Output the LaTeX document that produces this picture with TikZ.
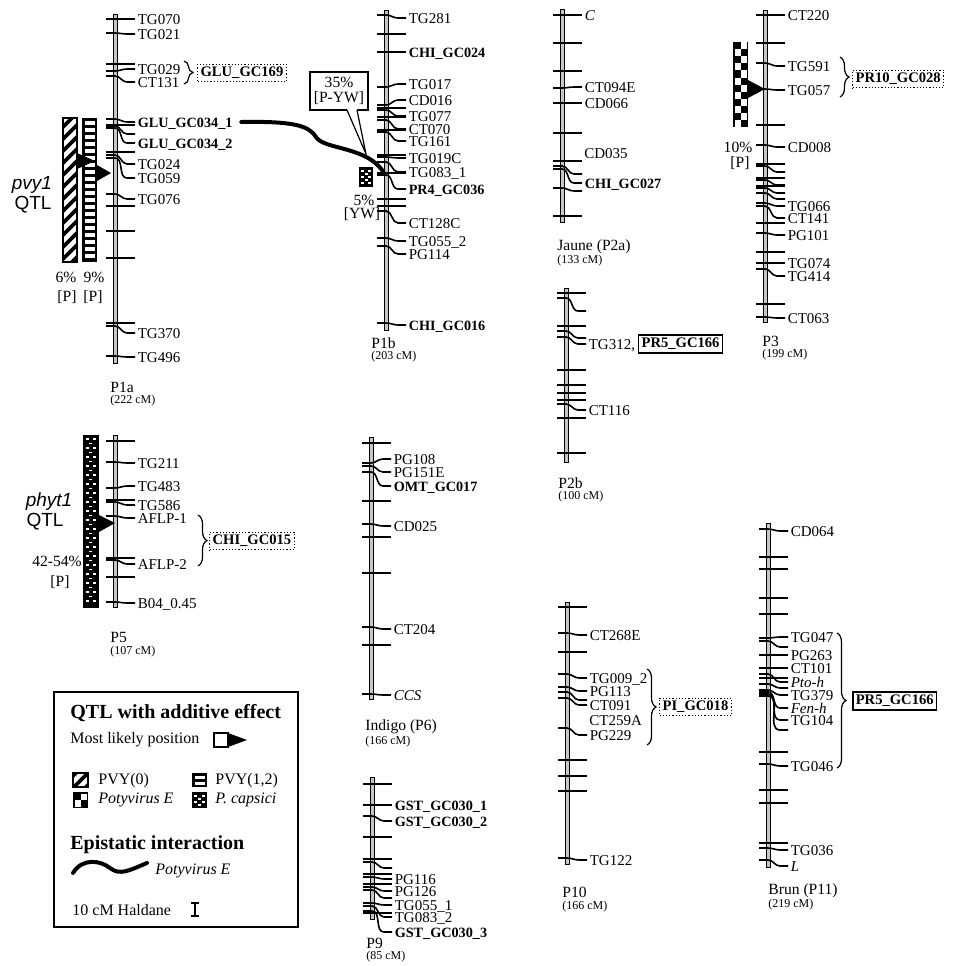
\documentclass[tikz,border=0pt]{standalone}
\usepackage{fontspec}
\setmainfont{Liberation Serif}
\newfontfamily\qtlfont{Liberation Sans}
\usetikzlibrary{decorations.pathreplacing,positioning}
\newcommand{\mkb}[1]{{\fontsize{7.1}{7.1}\selectfont\bfseries #1}}

\begin{document}
\begin{tikzpicture}[x=0.5pt,y=-0.5pt,
  chrom/.style={draw,line width=0.5pt,fill=gray!45},
  tick/.style={line width=0.8pt},
  mk/.style={anchor=west,inner sep=0pt,xshift=1pt,text height=5pt,text depth=0pt,
             font=\fontsize{7.5}{7.5}\selectfont},
  chrname/.style={anchor=west,inner sep=0pt,font=\fontsize{7.8}{7.8}\selectfont},
  cmlbl/.style={anchor=west,inner sep=0pt,yshift=-1.3pt,font=\fontsize{6}{6}\selectfont},
  dotbox/.style={draw,densely dotted,line width=0.6pt,inner sep=1.5pt,anchor=west,
                 font=\fontsize{7.3}{7.3}\selectfont\bfseries},
  solbox/.style={draw,line width=0.8pt,inner sep=1.5pt,anchor=west,
                 font=\fontsize{7.3}{7.3}\selectfont\bfseries},
  brc/.style={decorate,decoration={brace,amplitude=4.5pt},line width=0.6pt},
  pct/.style={inner sep=0pt,font=\fontsize{7.8}{7.8}\selectfont},
  qtl/.style={inner sep=0pt,font=\fontsize{9.5}{9.5}\selectfont\qtlfont},
  epi/.style={line width=2pt,line cap=round}
]
\useasboundingbox (0,0) rectangle (959,966);

% ---------- P1a
\begin{scope}[shift={(115,0)}]
\draw[chrom] (-2,14) rectangle (2,363);
\foreach \t/\l/\n [count=\i] in {19/19/TG070, 33/34/TG021, 64/64/, 71/69/TG029, 76/82/CT131,
    119/122/\mkb{GLU\_GC034\_1}, 125/125/, 126/134/, 128/143/\mkb{GLU\_GC034\_2}, 152/152/,
    155/164/TG024, 158/178/TG059, 194/199/TG076, 206/206/, 231/231/, 258/258/, 323/323/,
    326/333/TG370, 356/357/TG496}
  \draw[tick] (-9,\t) -- (0,\t) to[out=0,in=180] (12,\l) -- (20,\l) node[mk] (p1a-\i) {\n};
\end{scope}
\node[chrname] (n-p1a) at (110,387) {P1a};
\node[cmlbl] (cm-p1a) at (110,398) {(222 cM)};

% pvy1 QTL bars
\begin{scope}
\clip (63,118) rectangle (77,262);
\foreach \k in {118,130,...,290} \draw[line width=1.8pt] (60,\k) -- (80,\k-20);
\end{scope}
\draw[line width=0.8pt] (63,118) rectangle (77,262);
\fill (82,118) rectangle (97,262);
\foreach \k in {121,128,...,256} \fill[white] (84.5,\k) rectangle (94.5,\k+3.5);
\fill (77,153) -- (95,161) -- (77,169) -- cycle;
\fill (97,165) -- (111,173) -- (97,181) -- cycle;
\node[qtl] (pvy) at (32,185) {\itshape pvy1};
\node[qtl] (pvy-q) at (33,205) {QTL};
\node[pct] (pvy-a) at (66,277) {6\%};
\node[pct] (pvy-b) at (94,277) {9\%};
\node[pct] (pvy-c) at (67,297) {[P]};
\node[pct] (pvy-d) at (93,297) {[P]};

\draw[brc] (184,61) -- (184,84);
\node[dotbox] (glu169) at (197,73) {GLU\_GC169};

% ---------- P1b
\begin{scope}[shift={(386,0)}]
\draw[chrom] (-2,10) rectangle (2,330);
\foreach \t/\l/\n [count=\i] in {15/18/TG281, 34/34/, 52/52/\mkb{CHI\_GC024}, 87/84/TG017,
    105/100/CD016, 108/108/, 110/116/TG077, 117/117/, 120/129/CT070, 130/130/, 132/141/TG161,
    155/155/, 157/158/TG019C, 162/172/TG083\_1, 173/173/, 175/189/\mkb{PR4\_GC036}, 199/199/,
    206/206/, 211/223/CT128C, 238/241/TG055\_2, 246/254/PG114, 323/325/\mkb{CHI\_GC016}}
  \draw[tick] (-9,\t) -- (0,\t) to[out=0,in=180] (12,\l) -- (20,\l) node[mk] (p1b-\i) {\n};
\coordinate (p1b-epi) at (-2,173);
\end{scope}
\node[chrname] (n-p1b) at (371,343) {P1b};
\node[cmlbl] (cm-p1b) at (371,354) {(203 cM)};

% epistatic interaction
\draw[epi] ([xshift=4pt]p1a-6.east) .. controls (295,121) and (309,126) .. (316,137)
  .. controls (324,150) and (368,146) .. (p1b-epi);
\node[draw,line width=0.6pt,fill=white,align=center,inner sep=1pt,minimum width=29pt,
  minimum height=19pt,font=\fontsize{7.8}{7.5}\selectfont] (callout) at (339,91) {35\%\\{[P-YW]}};
\fill[white] (347,109) -- (366,154) -- (357,109) -- cycle;
\draw[line width=0.6pt] (347,110) -- (366,154) -- (357,110);

\fill (359,167) rectangle (373,187);
\foreach \y in {170,176,182} {
  \fill[white] (361,\y) rectangle (364,\y+1.5);
  \fill[white] (368,\y) rectangle (371,\y+1.5);}
\foreach \y in {173,179} \fill[white] (364.5,\y) rectangle (367.5,\y+1.5);
\node[pct] (yw-a) at (364,200) {5\%};
\node[pct] (yw-b) at (362,214) {[YW]};

% ---------- Jaune (P2a)
\begin{scope}[shift={(562,0)}]
\draw[chrom] (-2,9) rectangle (2,222);
\foreach \t/\l/\n [count=\i] in {15/15/\textit{C}, 43/43/, 71/71/, 88/87/CT094E, 103/103/CD066,
    133/133/, 161/161/, 166/174/, 169/183/\mkb{CHI\_GC027}, 188/191/, 216/216/}
  \draw[tick] (-9,\t) -- (0,\t) to[out=0,in=180] (12,\l) -- (20,\l) node[mk] (p2a-\i) {\n};
\node[mk] (cd035) at (20,153) {CD035};
\end{scope}
\node[chrname] (n-p2a) at (557,247) {Jaune (P2a)};
\node[cmlbl] (cm-p2a) at (557,258) {(133 cM)};

% ---------- P2b
\begin{scope}[shift={(566,0)}]
\draw[chrom] (-2,288) rectangle (2,462);
\foreach \t/\l/\n [count=\i] in {293/293/, 298/311/, 326/326/, 331/338/, 337/344/TG312{,},
    370/370/, 385/385/, 393/393/, 400/400/, 404/410/CT116, 418/418/, 453/453/}
  \draw[tick] (-9,\t) -- (0,\t) to[out=0,in=180] (12,\l) -- (20,\l) node[mk] (p2b-\i) {\n};
\end{scope}
\node[solbox,right=1pt of p2b-5] (pr5-p2b) {PR5\_GC166};
\node[chrname] (n-p2b) at (558,483) {P2b};
\node[cmlbl] (cm-p2b) at (558,494) {(100 cM)};

% ---------- P3
\begin{scope}[shift={(765,0)}]
\draw[chrom] (-2,10) rectangle (2,322);
\foreach \t/\l/\n [count=\i] in {15/15/CT220, 43/43/, 63/66/TG591, 89/90/TG057, 125/125/,
    145/147/CD008, 164/164/, 166/172/, 178/178/, 180/185/, 186/186/, 188/193/, 193/199/,
    203/206/TG066, 206/218/CT141, 223/223/, 233/235/PG101, 252/252/, 263/263/TG074,
    269/276/TG414, 304/304/, 317/318/CT063}
  \draw[tick] (-9,\t) -- (0,\t) to[out=0,in=180] (12,\l) -- (20,\l) node[mk] (p3-\i) {\n};
\end{scope}
\node[chrname] (n-p3) at (762,341) {P3};
\node[cmlbl] (cm-p3) at (762,352) {(199 cM)};

\fill (733,42) rectangle (748,127);
\foreach \y in {42,56.2,...,121} \fill[white] (740.5,\y) rectangle (746.5,\y+7.1);
\foreach \y in {49.1,63.3,...,121} \fill[white] (734.5,\y) rectangle (740.5,\y+7.1);
\fill (748,80) -- (765,89) -- (748,98) -- cycle;
\node[pct] (pe-a) at (738,147) {10\%};
\node[pct] (pe-b) at (740,163) {[P]};

\draw[brc] (840,57) -- (840,97);
\node[dotbox] (pr10) at (852,79) {PR10\_GC028};

% ---------- P5
\begin{scope}[shift={(115,0)}]
\draw[chrom] (-2,435) rectangle (2,607);
\foreach \t/\l/\n [count=\i] in {441/441/, 462/463/TG211, 488/486/TG483, 500/500/,
    502/505/TG586, 516/518/AFLP-1, 558/558/, 560/564/AFLP-2, 577/577/, 602/603/B04\_0.45}
  \draw[tick] (-9,\t) -- (0,\t) to[out=0,in=180] (12,\l) -- (20,\l) node[mk] (p5-\i) {\n};
\end{scope}
\node[chrname] (n-p5) at (110,637) {P5};
\node[cmlbl] (cm-p5) at (110,649) {(107 cM)};

\fill (83,435) rectangle (99,608);
\foreach \y in {438,447,...,603} {
  \fill[white] (85.5,\y) rectangle (88.5,\y+1.6);
  \fill[white] (93,\y) rectangle (96,\y+1.6);}
\foreach \y in {442.5,451.5,...,603} \fill[white] (89.3,\y) rectangle (92.3,\y+1.6);
\fill (99,515) -- (115,523) -- (99,532) -- cycle;
\node[qtl] (phyt) at (49,502) {\itshape phyt1};
\node[qtl] (phyt-q) at (45,522) {QTL};
\node[pct] (phyt-a) at (57,561) {42-54\%};
\node[pct] (phyt-b) at (60,582) {[P]};

\draw[brc] (198,515) -- (198,566);
\node[dotbox] (chi015) at (209,541) {CHI\_GC015};

% ---------- Indigo (P6)
\begin{scope}[shift={(371,0)}]
\draw[chrom] (-2,437) rectangle (2,699);
\foreach \t/\l/\n [count=\i] in {443/443/, 463/459/PG108, 466/472/PG151E,
    472/486/\mkb{OMT\_GC017}, 501/501/, 524/526/CD025, 537/537/, 573/573/, 627/629/CT204,
    645/645/, 694/695/\textit{CCS}}
  \draw[tick] (-9,\t) -- (0,\t) to[out=0,in=180] (12,\l) -- (20,\l) node[mk] (p6-\i) {\n};
\end{scope}
\node[chrname] (n-p6) at (365,727) {Indigo (P6)};
\node[cmlbl] (cm-p6) at (365,739) {(166 cM)};

% ---------- P9
\begin{scope}[shift={(372,0)}]
\draw[chrom] (-2,777) rectangle (2,919);
\foreach \t/\l/\n [count=\i] in {784/784/, 805/805/\mkb{GST\_GC030\_1}, 816/821/\mkb{GST\_GC030\_2},
    837/837/, 859/859/, 862/868/, 874/874/, 877/879/PG116, 884/884/, 887/891/PG126, 890/898/,
    903/905/TG055\_1, 906/917/TG083\_2, 913/913/, 911/932/\mkb{GST\_GC030\_3}}
  \draw[tick] (-9,\t) -- (0,\t) to[out=0,in=180] (12,\l) -- (20,\l) node[mk] (p9-\i) {\n};
\end{scope}
\node[chrname] (n-p9) at (366,943) {P9};
\node[cmlbl] (cm-p9) at (366,954) {(85 cM)};

% ---------- P10
\begin{scope}[shift={(567,0)}]
\draw[chrom] (-2,602) rectangle (2,864);
\foreach \t/\l/\n [count=\i] in {607/607/, 633/635/CT268E, 652/652/, 674/678/TG009\_2,
    687/691/PG113, 692/700/, 698/705/CT091, 728/735/PG229, 760/760/, 776/776/, 791/791/,
    858/860/TG122}
  \draw[tick] (-9,\t) -- (0,\t) to[out=0,in=180] (12,\l) -- (20,\l) node[mk] (p10-\i) {\n};
\node[mk] (ct259a) at (20,720) {CT259A};
\end{scope}
\node[chrname] (n-p10) at (562,892) {P10};
\node[cmlbl] (cm-p10) at (562,904) {(166 cM)};

\draw[brc] (647,669) -- (647,745);
\node[dotbox] (pi018) at (659,707) {PI\_GC018};

% ---------- Brun (P11)
\begin{scope}[shift={(768,0)}]
\draw[chrom] (-2,523) rectangle (2,867);
\foreach \t/\l/\n [count=\i] in {529/531/CD064, 557/557/, 569/569/, 598/598/, 614/614/,
    638/637/TG047, 641/647/, 655/655/PG263, 668/668/CT101, 674/682/\textit{Pto-h}, 678/678/,
    684/688/, 690/695/TG379, 692/708/\textit{Fen-h}, 694/720/TG104, 696/730/, 752/752/,
    764/766/TG046, 790/790/, 803/803/, 843/843/, 848/850/TG036, 860/866/\textit{L}}
  \draw[tick] (-9,\t) -- (0,\t) to[out=0,in=180] (12,\l) -- (20,\l) node[mk] (p11-\i) {\n};
\end{scope}
\node[chrname] (n-p11) at (768,891) {Brun (P11)};
\node[cmlbl] (cm-p11) at (768,902) {(219 cM)};

\draw[brc] (837,633) -- (837,768);
\node[solbox] (pr5-p11) at (852,701) {PR5\_GC166};

% ---------- legend
\draw[line width=0.8pt] (54,692) rectangle (298,927);
\node[chrname,font=\fontsize{10}{10}\selectfont\bfseries] (lg-qtl) at (70,713) {QTL with additive effect};
\node[chrname,font=\fontsize{8}{8}\selectfont] (lg-pos) at (70,740) {Most likely position};
\draw[line width=0.6pt] (214,733) rectangle (228,747);
\fill (228,733) -- (247,740) -- (228,747) -- cycle;

\begin{scope}
\clip (73,773) rectangle (88,787);
\foreach \k in {779,791,803} \draw[line width=1.8pt] (70,\k) -- (91,\k-21);
\end{scope}
\draw[line width=0.8pt] (73,773) rectangle (88,787);
\node[chrname,font=\fontsize{8}{8}\selectfont] (lg-pvy0) at (98,781) {PVY(0)};

\fill (192,773) rectangle (207,787);
\foreach \k in {776,782} \fill[white] (194.5,\k) rectangle (204.5,\k+3);
\node[chrname,font=\fontsize{8}{8}\selectfont] (lg-pvy12) at (215,781) {PVY(1,2)};

\fill (73,792) rectangle (88,808);
\fill[white] (80.5,793.5) rectangle (86.5,800);
\fill[white] (74.5,800) rectangle (80.5,806.5);
\node[chrname,font=\fontsize{8}{8}\selectfont] (lg-pote) at (98,800) {\itshape Potyvirus E};

\fill (192,792) rectangle (207,808);
\foreach \y in {795,801} {
  \fill[white] (194,\y) rectangle (197,\y+1.5);
  \fill[white] (201.5,\y) rectangle (204.5,\y+1.5);}
\foreach \y in {798,804} \fill[white] (197.8,\y) rectangle (200.8,\y+1.5);
\node[chrname,font=\fontsize{8}{8}\selectfont] (lg-pcap) at (215,800) {\itshape P. capsici};

\node[chrname,font=\fontsize{10}{10}\selectfont\bfseries] (lg-epi) at (70,845) {Epistatic interaction};
\draw[epi] (73,873) .. controls (82,858) and (100,860) .. (110,868)
  .. controls (120,876) and (130,870) .. (147,863);
\node[chrname,font=\fontsize{8}{8}\selectfont] (lg-epi-e) at (155,871) {\itshape Potyvirus E};

\node[chrname,font=\fontsize{8}{8}\selectfont] (lg-scale) at (72,910) {10 cM Haldane};
\draw[line width=0.8pt] (191,903) -- (199,903) (195,903) -- (195,916) (191,916) -- (199,916);
\end{tikzpicture}
\end{document}
